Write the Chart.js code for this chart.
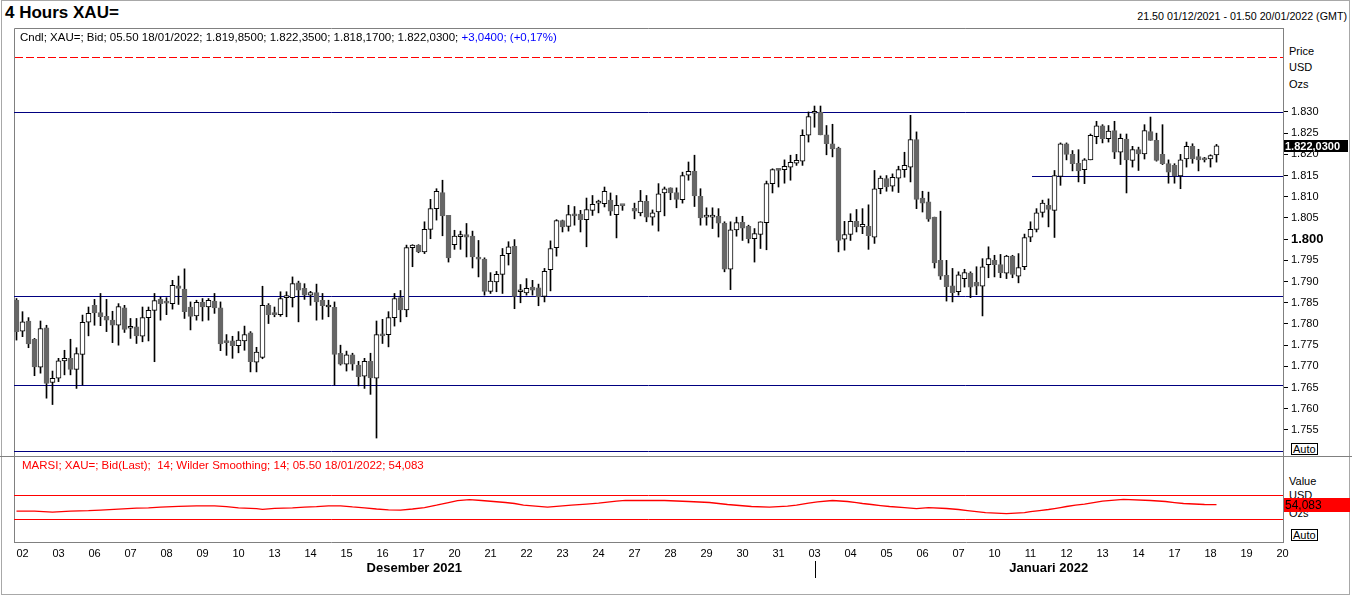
<!DOCTYPE html>
<html><head><meta charset="utf-8">
<script src="https://cdn.jsdelivr.net/npm/chart.js@4.4.1/dist/chart.umd.min.js"></script>
<style>
html,body{margin:0;padding:0;background:#fff;}
body{width:1352px;height:596px;position:relative;overflow:hidden;font-family:"Liberation Sans",Arial,sans-serif;color:#000;}
.t{position:absolute;white-space:nowrap;line-height:1;}
canvas{position:absolute;left:0;z-index:1;}
.auto{position:absolute;border:1px solid #000;font-size:11px;line-height:10px;height:10px;padding:0 1px;background:#fff;z-index:2}
#frame{position:absolute;left:1px;top:0;width:1349px;height:595px;border:1px solid #a8a8a8;box-sizing:border-box}
</style></head>
<body>
<div id="frame"></div>
<div class="t" style="left:5px;top:4px;font-size:17px;font-weight:bold">4 Hours XAU=</div>
<div class="t" style="right:5px;top:11px;font-size:10.7px">21.50 01/12/2021 - 01.50 20/01/2022 (GMT)</div>
<div class="t" style="left:20px;top:32px;font-size:11.5px;z-index:3">Cndl; XAU=; Bid; 05.50 18/01/2022; 1.819,8500; 1.822,3500; 1.818,1700; 1.822,0300; <span style="color:#0000ff">+3,0400; (+0,17%)</span></div>
<div class="t" style="left:1289px;top:46px;font-size:11px">Price</div>
<div class="t" style="left:1289px;top:62px;font-size:11px">USD</div>
<div class="t" style="left:1289px;top:79px;font-size:11px">Ozs</div>
<div class="auto" style="left:1291px;top:443px">Auto</div>
<div class="t" style="left:22px;top:460px;font-size:11.5px;color:#ff0000;z-index:3">MARSI; XAU=; Bid(Last);&nbsp; 14; Wilder Smoothing; 14; 05.50 18/01/2022; 54,083</div>
<div class="t" style="left:1289px;top:476px;font-size:11px">Value</div>
<div class="t" style="left:1289px;top:490px;font-size:11px">USD</div>
<div class="t" style="left:1289px;top:508px;font-size:11px">Ozs</div>
<div class="auto" style="left:1291px;top:529px">Auto</div>
<canvas id="main" width="1352" height="456" style="top:0"></canvas>
<canvas id="rsi" width="1352" height="140" style="top:456px"></canvas>
<script>
// ---------- DATA ----------
const days = ['2021-12-02','2021-12-03','2021-12-06','2021-12-07','2021-12-08','2021-12-09','2021-12-10',
  '2021-12-13','2021-12-14','2021-12-15','2021-12-16','2021-12-17','2021-12-20','2021-12-21','2021-12-22',
  '2021-12-23','2021-12-24','2021-12-27','2021-12-28','2021-12-29','2021-12-30','2021-12-31',
  '2022-01-03','2022-01-04','2022-01-05','2022-01-06','2022-01-07','2022-01-10','2022-01-11','2022-01-12',
  '2022-01-13','2022-01-14','2022-01-17','2022-01-18','2022-01-19','2022-01-20'];
const monthNames = {'12':'Desember','01':'Januari'};
const barsPerDay = 6;

// 4-hour bars from 21.50 01/12/2021 (null = no bar in that slot)
const opens = [
1785.6,1778.3,1780.7,1776.4,1769.8,1779.1,1766.2,1767.2,1771.3,1771.9,
1769.3,1772.8,1780.4,1784.4,1782.7,1781.8,1780.9,1779.7,1783.8,1779.0,
1779.3,1777.1,1781.5,1783.2,1785.8,1785.0,1784.8,1789.0,1788.2,1784.0,
1781.9,1785.1,1784.0,1785.4,1783.8,1776.0,1776.0,1774.9,1776.0,1777.9,
1771.0,1772.1,1784.4,1782.4,1782.2,1786.2,1786.2,1789.7,1788.4,1786.8,
1787.4,1785.6,1784.0,1783.9,1773.1,1770.5,1772.7,1770.3,1767.7,1771.2,
1767.2,1777.5,1777.5,1781.5,1786.2,1783.3,1798.0,1798.6,1797.0,1802.3,
1807.2,1811.0,1805.6,1798.7,1800.6,1801.1,1800.7,1795.7,1795.3,1787.7,
1789.9,1791.7,1796.6,1798.3,1787.6,1787.3,1788.7,1788.5,1786.5,1792.8,
1798.0,1804.4,1803.0,1805.9,1805.9,1804.6,1806.8,1808.5,1808.4,1809.2,
1805.8,1808.0,null,
1807.3,1806.2,1808.9,1805.2,1806.4,1810.9,1812.1,1811.0,
1809.3,1815.1,1816.0,1810.1,1805.2,1805.2,1805.4,1803.8,1792.9,1802.2,
1804.0,1803.0,1800.1,1801.1,1803.9,1813.1,1816.7,1816.4,1817.0,1817.9,
1818.4,1824.5,1829.7,1830.0,1824.6,1822.5,1821.5,1800.0,1801.1,1804.2,
1802.9,1803.0,1800.5,1811.9,1814.3,1812.5,1814.4,1816.4,1817.0,1823.5,
1809.7,1808.8,1805.2,1795.0,1791.5,1789.0,1787.6,1790.7,1792.0,1789.8,
1788.9,1794.0,1795.0,1794.0,1792.0,1796.0,1791.3,1793.5,1800.5,1802.3,
1806.3,1808.0,1806.8,1814.8,1822.5,1820.0,1817.9,1816.4,1818.7,1824.2,
1826.7,1823.7,1825.6,1820.5,1823.6,1818.6,1821.1,1820.1,1825.4,1823.3,
1820.0,1817.8,1817.4,1814.9,1818.9,1821.9,1819.5,1819.2,1818.9,1819.85];
const highs = [
1786.0,1782.9,1781.5,1776.6,1780.7,1779.7,1768.9,1771.9,1773.8,1776.4,
1774.4,1782.1,1784.0,1785.8,1787.2,1785.8,1783.0,1784.8,1784.4,1781.3,
1781.3,1784.0,1784.0,1787.2,1786.3,1786.2,1790.3,1791.3,1793.0,1785.2,
1785.6,1786.0,1786.0,1787.2,1785.2,1777.5,1777.1,1778.2,1779.5,1778.2,
1774.5,1788.9,1784.8,1784.0,1787.6,1787.6,1791.1,1790.1,1789.5,1787.7,
1789.4,1787.2,1785.6,1785.2,1775.0,1773.6,1773.1,1771.2,1771.9,1773.1,
1780.7,1781.1,1782.9,1787.2,1787.9,1798.6,1798.7,1798.7,1804.1,1809.4,
1811.9,1813.9,1805.6,1802.1,1801.9,1803.7,1801.9,1799.7,1795.6,1792.1,
1792.4,1797.8,1799.4,1799.9,1789.3,1790.7,1790.3,1789.4,1793.1,1799.6,
1804.6,1804.5,1808.0,1807.7,1806.8,1809.7,1810.3,1809.2,1812.3,1810.9,
1810.3,1808.0,null,
1808.5,1811.5,1810.3,1806.9,1813.1,1812.3,1812.1,1812.1,
1815.8,1818.2,1819.8,1811.9,1807.4,1807.4,1807.2,1804.1,1804.1,1805.2,
1805.4,1803.3,1802.5,1804.1,1813.7,1816.6,1816.7,1818.7,1819.8,1820.0,
1825.8,1830.0,1831.4,1831.4,1826.8,1827.1,1821.7,1804.2,1806.0,1807.0,
1807.2,1808.1,1816.2,1814.9,1815.0,1815.4,1817.2,1820.5,1829.2,1825.3,
1811.3,1811.1,1805.2,1806.6,1795.0,1793.1,1792.3,1792.9,1792.3,1793.5,
1795.4,1798.2,1796.2,1796.4,1796.2,1796.2,1796.6,1801.2,1804.1,1807.2,
1809.2,1809.5,1816.2,1822.7,1822.7,1820.9,1821.1,1819.0,1824.8,1827.8,
1827.0,1826.8,1827.8,1824.8,1824.8,1821.9,1821.7,1827.0,1828.8,1825.0,
1827.0,1818.7,1817.8,1820.0,1822.9,1822.5,1821.2,1819.3,1819.9,1822.35];
const lows = [
1776.2,1777.0,1774.4,1767.8,1768.4,1762.5,1761.0,1766.4,1768.0,1768.0,
1764.8,1765.6,1777.2,1779.7,1779.6,1778.2,1775.6,1775.0,1778.0,1776.6,
1775.4,1775.8,1776.0,1771.1,1780.9,1782.2,1783.5,1784.6,1781.3,1778.6,
1780.9,1780.7,1780.9,1782.5,1773.7,1772.6,1771.9,1773.2,1773.8,1768.7,
1768.7,1771.8,1780.1,1781.7,1781.8,1781.7,1784.0,1780.5,1785.8,1784.4,
1780.9,1781.1,1781.7,1765.6,1770.3,1768.9,1769.1,1765.4,1764.8,1763.4,
1753.1,1775.4,1774.6,1779.5,1780.5,1781.7,1793.5,1796.8,1796.6,1800.1,
1804.5,1800.8,1794.6,1797.6,1797.6,1795.8,1793.2,1791.1,1786.8,1787.2,
1787.6,1787.2,1793.9,1783.6,1785.0,1786.8,1786.8,1784.3,1785.2,1787.8,
1796.0,1801.7,1801.9,1803.3,1801.7,1798.2,1805.6,1806.2,1807.6,1805.6,
1800.3,1806.8,null,
1804.8,1805.5,1804.1,1803.3,1801.9,1805.5,1809.3,1807.4,
1808.5,1813.9,1807.7,1803.3,1803.3,1802.5,1800.5,1792.3,1788.1,1800.7,
1799.7,1799.1,1794.6,1797.8,1797.5,1810.9,1812.3,1813.2,1813.9,1817.4,
1817.4,1822.9,1826.4,1824.6,1819.9,1819.4,1797.0,1797.4,1799.7,1801.7,
1801.3,1797.6,1799.0,1810.7,1811.3,1811.3,1811.0,1814.6,1813.5,1807.2,
1806.4,1804.2,1793.2,1790.5,1785.4,1785.2,1786.8,1788.7,1786.2,1786.9,
1781.9,1790.9,1791.1,1790.9,1790.7,1790.9,1789.7,1792.8,1799.4,1801.7,
1805.2,1802.9,1800.4,1812.7,1818.7,1816.1,1813.5,1813.1,1818.7,1822.5,
1822.7,1822.9,1819.0,1817.6,1810.9,1817.0,1816.2,1818.9,1823.3,1818.4,
1817.6,1813.2,1813.2,1811.9,1817.0,1817.9,1816.1,1818.2,1817.0,1818.17];
const closes = [
1778.2,1780.5,1775.3,1769.9,1778.9,1766.0,1767.2,1771.3,1771.9,1769.3,
1773.0,1780.4,1782.5,1782.6,1781.7,1780.9,1779.7,1784.1,1778.7,1779.1,
1777.2,1781.5,1783.2,1785.5,1784.8,1784.9,1789.1,1788.4,1782.9,1781.8,
1785.1,1784.0,1785.6,1783.8,1775.3,1775.6,1774.9,1776.2,1777.5,1771.1,
1773.4,1784.4,1782.2,1782.2,1786.0,1786.3,1789.5,1788.0,1786.8,1787.4,
1785.2,1784.3,1784.1,1772.8,1770.5,1772.7,1770.5,1767.6,1771.2,1767.3,
1777.5,1777.2,1781.5,1786.0,1783.3,1798.0,1798.6,1797.0,1802.3,1807.2,
1811.3,1805.5,1795.6,1800.7,1800.7,1800.5,1795.8,1795.3,1787.7,1790.1,
1791.7,1796.2,1798.2,1786.5,1787.7,1788.4,1788.0,1786.4,1792.4,1797.8,
1804.4,1802.9,1805.8,1805.5,1804.6,1807.0,1808.2,1808.6,1811.3,1806.6,
1808.0,1807.9,null,
1806.6,1809.0,1805.2,1806.2,1810.7,1811.9,1810.9,1809.4,
1815.0,1816.0,1810.2,1805.0,1805.3,1805.3,1803.8,1792.9,1802.2,1803.9,
1802.6,1800.1,1801.3,1804.1,1813.1,1816.4,1816.2,1817.2,1818.1,1818.6,
1824.5,1828.9,1829.8,1824.6,1822.5,1821.3,1799.7,1801.1,1804.2,1802.9,
1803.5,1800.8,1811.9,1814.4,1812.3,1814.6,1816.4,1817.4,1823.5,1809.4,
1808.5,1804.7,1794.4,1791.3,1788.8,1787.4,1791.6,1792.1,1788.7,1788.9,
1793.5,1795.4,1794.0,1792.1,1796.0,1791.7,1793.3,1800.4,1802.3,1806.2,
1808.5,1807.0,1815.0,1822.5,1820.0,1817.8,1816.1,1818.7,1824.5,1826.7,
1823.7,1825.5,1820.5,1823.8,1818.7,1821.1,1820.1,1825.6,1823.3,1818.6,
1817.8,1815.8,1814.9,1818.7,1821.9,1818.9,1818.7,1818.7,1819.7,1822.03];

const priceTicks = [1755,1760,1765,1770,1775,1780,1785,1790,1795,1800,1805,1810,1815,1820,1825,1830];
const levelLines = [1830.0, 1786.7, 1765.6, 1750.05];   // navy horizontal lines
const supportLevel = 1814.9, supportFromBar = 169.25;   // short navy line
const dashedLevel = 1843.0;                              // red dashed line

// MARSI (bar position, value)
const rsiBars = [0,3,6,9,12,14,17,20,22,24,27,30,33,35,37,40,41,43,46,48,50,52,54,56,58,60,62,64,66,68,70,72,73.5,75.5,77.5,79.5,81.5,83,84.5,86.5,88.5,90.5,92.5,95,97,98.5,100,101.5,105,108,112,115.5,117,118.5,120.5,122.5,125.5,128.5,130,131,132,133.5,136,138.5,140,141,142.5,144,145.5,148,150,152,155,157,158.5,160,161.5,165,168,169,170.5,172,173,174,175,176.5,178,179,180,181,184.5,189,191.5,193,194.5,198,200];
const rsiValues = [42.7,42.7,41.0,42.7,43.5,44.5,46.2,48.0,48.5,49.7,51.0,51.8,51.8,50.5,48.5,47.0,46.0,47.5,48.5,49.7,50.5,51.8,52.0,50.0,48.5,46.5,45.0,44.5,46.5,49.0,53.0,57.5,61.0,62.8,61.2,59.5,57.7,56.0,53.1,51.4,49.8,51.4,53.1,54.8,56.6,58.3,60.1,61.5,61.2,61.2,59.5,57.7,56.0,54.3,52.5,50.8,49.6,51.4,53.1,54.8,56.6,58.9,61.2,59.5,57.7,56.0,54.3,52.5,50.8,49.0,47.3,49.0,47.3,45.6,43.8,42.1,40.3,38.6,40.3,42.1,43.8,45.6,47.3,49.0,50.8,53.1,54.8,56.6,58.3,60.1,63.0,61.2,59.5,57.7,56.0,54.3,54.083];
const rsiLevels = [70, 30];

// ---------- HELPERS ----------
const FONT = '"Liberation Sans", Arial, sans-serif';
Chart.defaults.font.family = FONT;
Chart.defaults.color = '#000';
function fmtEU(v, d){
  const s = v.toFixed(d).split('.');
  const i = s[0].replace(/\B(?=(\d{3})+(?!\d))/g, '.');
  return d > 0 ? i + ',' + s[1] : i;
}
const X_MIN = -0.41667, X_MAX = 211.08333;
const UP = '#ffffff', DOWN = '#666666';
const idx = opens.map((_, i) => i).filter(i => opens[i] !== null);
const wickData = idx.map(i => ({x: i, y: [lows[i], highs[i]]}));
const bodyData = idx.map(i => ({x: i, y: [opens[i], closes[i]]}));
const isUp = idx.map(i => closes[i] >= opens[i]);
const dayTicks = days.map((d, k) => 1 + barsPerDay * k);

function hline(ctx, x1, x2, py){ ctx.beginPath(); ctx.moveTo(x1, py); ctx.lineTo(x2, py); ctx.stroke(); }

// ---------- MAIN PRICE CHART ----------
const mainDecor = {
  id: 'mainDecor',
  beforeDatasetsDraw(chart){
    const {ctx, chartArea: a, scales: {x, y}} = chart;
    ctx.save();
    ctx.lineWidth = 1;
    ctx.strokeStyle = '#808080';
    ctx.beginPath();
    ctx.moveTo(a.left + 0.5, chart.height); ctx.lineTo(a.left + 0.5, a.top + 0.5); ctx.lineTo(a.right, a.top + 0.5);
    ctx.stroke();
    ctx.strokeStyle = '#000080';
    levelLines.forEach(v => hline(ctx, a.left, a.right, Math.round(y.getPixelForValue(v)) + 0.5));
    hline(ctx, x.getPixelForValue(supportFromBar), a.right, Math.round(y.getPixelForValue(supportLevel)) + 0.5);
    // red dashed level
    ctx.fillStyle = '#ff0000';
    const dy = Math.round(y.getPixelForValue(dashedLevel));
    for (let px = a.left + 1; px < a.right; px += 11) ctx.fillRect(px, dy, Math.min(8, a.right - px), 1);
    ctx.restore();
  },
  afterDraw(chart){
    const {ctx, chartArea: a, scales: {y}} = chart;
    const last = closes[closes.length - 1];
    const py = Math.round(y.getPixelForValue(last));
    ctx.save();
    ctx.fillStyle = '#000';
    ctx.fillRect(a.right + 1, py - 6, 64, 12);
    ctx.fillStyle = '#fff';
    ctx.font = 'bold 11px ' + FONT;
    ctx.textBaseline = 'middle';
    ctx.fillText(fmtEU(last, 4), a.right + 2, py + 0.5);
    ctx.restore();
  }
};

new Chart(document.getElementById('main'), {
  type: 'bar',
  data: {
    datasets: [
      {data: wickData, backgroundColor: '#000', barThickness: 1, grouped: false, order: 2, borderWidth: 0},
      {data: bodyData, backgroundColor: isUp.map(u => u ? UP : DOWN), borderColor: isUp.map(u => u ? '#000' : DOWN),
       borderWidth: 1, borderSkipped: false, barThickness: 5, minBarLength: 2, grouped: false, order: 1}
    ]
  },
  options: {
    responsive: false, animation: false, events: [],
    layout: {padding: {left: 14, top: 28, right: 0, bottom: 1}},
    plugins: {legend: {display: false}, tooltip: {enabled: false}},
    scales: {
      x: {type: 'linear', min: X_MIN, max: X_MAX, display: false, offset: false},
      y: {
        position: 'right', min: 1749.1, max: 1849.8,
        afterBuildTicks: s => { s.ticks = priceTicks.map(v => ({value: v})); },
        afterFit: s => { s.width = 69; s.paddingTop = 0; s.paddingBottom = 0; },
        ticks: {
          padding: 3, color: '#000',
          callback: v => fmtEU(v / 1000, 3).replace(',', '.'),
          font: c => (c.tick && c.tick.value === 1800) ? {size: 13, weight: 'bold', family: FONT} : {size: 11, family: FONT}
        },
        grid: {drawOnChartArea: false, drawTicks: true, tickLength: 5, color: '#000'},
        border: {color: '#808080', width: 1}
      }
    }
  },
  plugins: [mainDecor]
});

// ---------- MARSI PANEL ----------
const rsiDecor = {
  id: 'rsiDecor',
  beforeDatasetsDraw(chart){
    const {ctx, chartArea: a, scales: {y}} = chart;
    ctx.save();
    ctx.lineWidth = 1;
    ctx.strokeStyle = '#808080';
    hline(ctx, 0, chart.width, 0.5);
    ctx.beginPath(); ctx.moveTo(a.left + 0.5, 0); ctx.lineTo(a.left + 0.5, a.bottom); ctx.stroke();
    ctx.strokeStyle = '#ff0000';
    rsiLevels.forEach(v => hline(ctx, a.left, a.right, Math.round(y.getPixelForValue(v)) + 0.5));
    ctx.restore();
  },
  afterDraw(chart){
    const {ctx, chartArea: a, scales: {x, y}} = chart;
    ctx.save();
    // last value box
    const last = rsiValues[rsiValues.length - 1];
    const py = Math.round(y.getPixelForValue(last));
    ctx.fillStyle = '#ff0000';
    ctx.fillRect(a.right + 1, py - 7, 66, 14);
    ctx.fillStyle = '#000';
    ctx.font = '12px ' + FONT;
    ctx.textBaseline = 'middle';
    ctx.fillText(fmtEU(last, 3), a.right + 2, py + 0.5);
    // month labels
    ctx.font = 'bold 13px ' + FONT;
    ctx.textAlign = 'center';
    const groups = [];
    days.forEach((d, k) => {
      const m = d.slice(0, 7);
      if (!groups.length || groups[groups.length - 1].m !== m) groups.push({m, k});
    });
    groups.forEach((g, gi) => {
      const x1 = gi === 0 ? a.left : x.getPixelForValue(dayTicks[g.k]);
      const x2 = gi < groups.length - 1 ? x.getPixelForValue(dayTicks[groups[gi + 1].k]) : a.right;
      const [yy, mm] = g.m.split('-');
      ctx.fillText(monthNames[mm] + ' ' + yy, (x1 + x2) / 2, 112);
      if (gi > 0) {
        const bx = Math.round(x1) + 0.5;
        ctx.strokeStyle = '#000'; ctx.lineWidth = 1;
        ctx.beginPath(); ctx.moveTo(bx, 105); ctx.lineTo(bx, 122); ctx.stroke();
      }
    });
    ctx.restore();
  }
};

new Chart(document.getElementById('rsi'), {
  type: 'line',
  data: {
    datasets: [{
      data: rsiBars.map((b, i) => ({x: b, y: rsiValues[i]})),
      borderColor: '#ff0000', borderWidth: 1.3, pointRadius: 0, tension: 0, fill: false
    }]
  },
  options: {
    responsive: false, animation: false, events: [],
    layout: {padding: {left: 14, top: 0, right: 0, bottom: 0}},
    plugins: {legend: {display: false}, tooltip: {enabled: false}},
    scales: {
      x: {
        type: 'linear', min: X_MIN, max: X_MAX, offset: false,
        afterBuildTicks: s => { s.ticks = dayTicks.map(v => ({value: v})); },
        afterFit: s => { s.height = 54; s.paddingLeft = 0; s.paddingRight = 0; },
        ticks: {autoSkip: false, maxRotation: 0, minRotation: 0, padding: 5, color: '#000',
                font: {size: 11, family: FONT}, callback: (v, i) => days[i].slice(8, 10)},
        grid: {display: false, drawTicks: false},
        border: {color: '#808080', width: 1}
      },
      y: {
        position: 'right', min: -10.7, max: 138.3,
        afterFit: s => { s.width = 69; s.paddingTop = 0; s.paddingBottom = 0; },
        ticks: {display: false},
        grid: {display: false, drawTicks: false},
        border: {color: '#808080', width: 1}
      }
    }
  },
  plugins: [rsiDecor]
});
</script>
</body></html>
